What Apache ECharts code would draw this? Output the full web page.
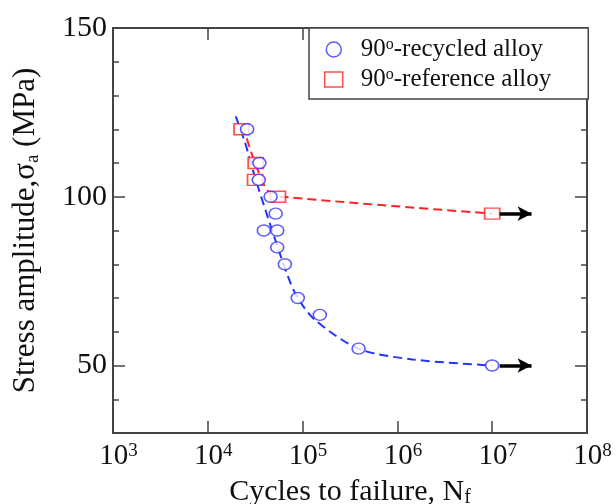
<!DOCTYPE html>
<html>
<head>
<meta charset="utf-8">
<script src="https://cdn.jsdelivr.net/npm/echarts@6/dist/echarts.min.js"></script>
<style>
  html, body { margin: 0; padding: 0; background: #fff; }
  #main { width: 616px; height: 504px; }
</style>
</head>
<body>
<div id="main"></div>
<script>
// measured points, cycles to failure vs stress amplitude (MPa)
var recycledN = [2.6e4, 3.5e4, 3.45e4, 4.6e4, 5.2e4, 3.9e4, 5.4e4, 5.4e4, 6.5e4, 8.9e4, 1.52e5, 3.9e5, 1e7];
var recycledS = [120, 110, 105, 100, 95, 90, 90, 85, 80, 70, 65, 55, 50];
var referenceN = [2.27e4, 3.2e4, 3.15e4, 5.5e4, 1e7];
var referenceS = [120, 110, 105, 100, 95];

// dashed fitted curves
var recycledFitN = [1.97e4, 2.45e4, 3.13e4, 4.15e4, 5.28e4, 7.0e4, 8.85e4, 1.34e5, 3.88e5, 1.44e6, 1e7];
var recycledFitS = [123.8, 116.4, 106.0, 95.2, 86.3, 76.4, 70.1, 63.6, 55.0, 51.8, 50.0];
var referenceFitN = [2.33e4, 2.98e4, 4.18e4, 5.73e4, 1e7];
var referenceFitS = [121.3, 111.8, 102.1, 100.1, 95.0];

// run-out arrows (start/end cycles at given stress)
var runoutN = [1.2e7, 2.6e7];
var runoutS = [95, 50];

var yMajor = [50, 100, 150];
var yMinor = [40, 60, 70, 80, 90, 110, 120, 130, 140];

function pairs(xs, ys) {
  var out = [];
  for (var i = 0; i < xs.length; i++) out.push([xs[i], ys[i]]);
  return out;
}

var serif = 'Liberation Serif';
var axisCol = '#444';
var tickStyle = { color: axisCol, width: 1.5 };

var chart = echarts.init(document.getElementById('main'));

var arrows = [];
for (var k = 0; k < runoutS.length; k++) {
  arrows.push([{ coord: [runoutN[0], runoutS[k]] }, { coord: [runoutN[1], runoutS[k]] }]);
}

function yAx(pos, vals, len, labels) {
  return {
    type: 'value', min: 30, max: 150, position: pos,
    axisLine: { show: false }, splitLine: { show: false },
    axisTick: { show: true, inside: true, length: len, customValues: vals, lineStyle: tickStyle },
    axisLabel: labels ? {
      customValues: yMajor, margin: 6, color: '#111',
      fontFamily: serif, fontSize: 30
    } : { show: false }
  };
}

var option = {
  animation: false,
  grid: {
    left: 113, right: 29, top: 28, bottom: 71, outerBoundsMode: 'none',
    show: true, borderColor: axisCol, borderWidth: 2, backgroundColor: 'transparent'
  },
  legend: {
    orient: 'vertical', left: 309, top: 28,
    padding: [9, 37, 7, 15],
    itemGap: 5, itemWidth: 18, itemHeight: 15,
    backgroundColor: '#fff', borderColor: axisCol, borderWidth: 1.5,
    textStyle: { fontFamily: serif, fontSize: 25, color: '#111', padding: [0, 0, 0, 13],
      rich: { sup: { fontFamily: serif, fontSize: 16, verticalAlign: 'top', lineHeight: 15, color: '#111' } } },
    formatter: function (name) { return name.replace('º', '{sup|o}'); },
    data: [
      { name: '90º-recycled alloy', icon: 'circle', itemStyle: { color: '#fff', borderColor: '#3333ff', borderWidth: 1.5 } },
      { name: '90º-reference alloy', icon: 'rect', itemStyle: { color: '#fff', borderColor: '#ff2222', borderWidth: 1.5 } }
    ]
  },
  xAxis: [
    {
      type: 'log', logBase: 10, min: 1e3, max: 1e8, interval: 1, position: 'bottom',
      axisLine: { show: false }, splitLine: { show: false }, minorTick: { show: false },
      axisTick: { show: true, inside: true, length: 12, lineStyle: tickStyle },
      axisLabel: {
        margin: 9, color: '#111', fontFamily: serif, fontSize: 29, padding: [0, 0, 0, 11],
        formatter: function (v) { return '10{sup|' + Math.round(Math.log10(v)) + '}'; },
        rich: { sup: { fontFamily: serif, fontSize: 19, verticalAlign: 'top', lineHeight: 18, color: '#111' } }
      },
      name: 'Cycles to failure, N{sub|f}', nameLocation: 'middle', nameGap: 39,
      nameTextStyle: {
        fontFamily: serif, fontSize: 30, color: '#111', lineHeight: 32,
        rich: { sub: { fontFamily: serif, fontSize: 20, verticalAlign: 'bottom', lineHeight: 14, color: '#111' } }
      }
    },
    {
      type: 'log', logBase: 10, min: 1e3, max: 1e8, interval: 1, position: 'top',
      axisLine: { show: false }, splitLine: { show: false }, minorTick: { show: false },
      axisTick: { show: true, inside: true, length: 12, lineStyle: tickStyle },
      axisLabel: { show: false }
    }
  ],
  yAxis: [
    Object.assign(yAx('left', yMajor, 12, true), {
      name: 'Stress amplitude,σ{sub|a} (MPa)', nameLocation: 'middle', nameGap: 70, nameRotate: 90,
      nameTextStyle: {
        fontFamily: serif, fontSize: 31, color: '#111', lineHeight: 34,
        rich: { sub: { fontFamily: serif, fontSize: 19, verticalAlign: 'bottom', lineHeight: 14, color: '#111' } }
      }
    }),
    yAx('left', yMinor, 6, false),
    yAx('right', yMajor, 12, false),
    yAx('right', yMinor, 6, false)
  ],
  series: [
    {
      name: 'recycled fit', type: 'line', smooth: 0.3, showSymbol: false, silent: true, z: 2,
      data: pairs(recycledFitN, recycledFitS),
      lineStyle: { color: '#2233ff', width: 2, type: [9, 5] },
      markLine: {
        silent: true, symbol: ['none', 'arrow'], symbolSize: [11, 14],
        label: { show: false },
        lineStyle: { color: '#000', width: 3.5, type: 'solid' },
        data: arrows
      }
    },
    {
      name: 'reference fit', type: 'line', smooth: 0.2, showSymbol: false, silent: true, z: 2,
      data: pairs(referenceFitN, referenceFitS),
      lineStyle: { color: '#ff2222', width: 2, type: [9, 5] }
    },
    {
      name: '90º-recycled alloy', type: 'scatter', symbol: 'circle', symbolSize: [13, 11], z: 4,
      data: pairs(recycledN, recycledS),
      itemStyle: { color: '#fff', borderColor: '#3333ff', borderWidth: 1.5 }
    },
    {
      name: '90º-reference alloy', type: 'scatter', symbol: 'rect', symbolSize: [15, 11], z: 3,
      data: pairs(referenceN, referenceS),
      itemStyle: { color: '#fff', borderColor: '#ff2222', borderWidth: 1.5 }
    }
  ]
};

chart.setOption(option);
</script>
</body>
</html>
